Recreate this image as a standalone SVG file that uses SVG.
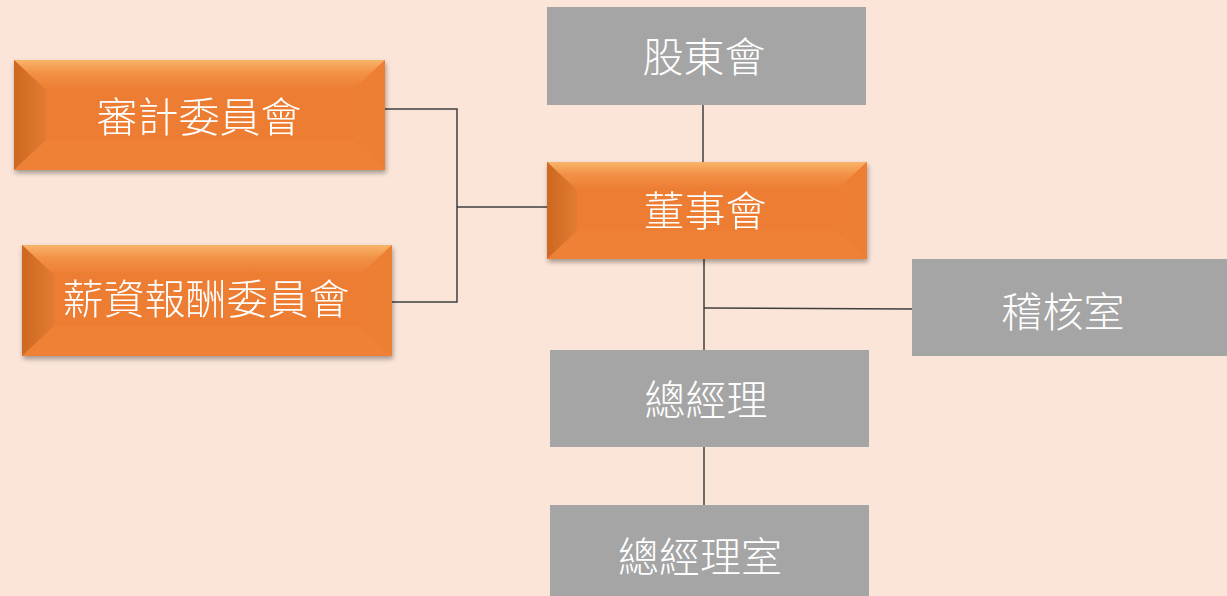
<svg xmlns="http://www.w3.org/2000/svg" width="1227" height="596" viewBox="0 0 1227 596">
<defs>
<style>
.gray{fill:#A5A5A5}
.lbl{font-family:"Noto Sans CJK TC","Noto Sans CJK SC",sans-serif;font-size:41px;font-weight:300;fill:#FFFFFF;text-anchor:middle;dominant-baseline:central}
.ln{stroke:#3F3F3F;stroke-width:1.5;fill:none}
.face{fill:#EC7D32}
.bl{fill:url(#gl)}
.br{fill:#ED7F33}
.bt{fill:url(#gt)}
.bb{fill:#EE8135}
</style>
<linearGradient id="gl" x1="0" y1="0" x2="1" y2="0"><stop offset="0" stop-color="#CC6820"/><stop offset="1" stop-color="#E27B34"/></linearGradient>
<linearGradient id="gt" x1="0" y1="0" x2="0" y2="1"><stop offset="0" stop-color="#F9B46A"/><stop offset="0.45" stop-color="#F29045"/><stop offset="1" stop-color="#EC7D32"/></linearGradient>
<filter id="sh" x="-10%" y="-10%" width="120%" height="130%"><feDropShadow dx="1" dy="3" stdDeviation="2.5" flood-color="#000" flood-opacity="0.35"/></filter>
</defs>
<rect width="1227" height="596" fill="#FBE5D8"/>
<g id="connectors">
<line class="ln" x1="703" y1="105" x2="703" y2="162"/>
<line class="ln" x1="704" y1="259" x2="704" y2="350"/>
<line class="ln" x1="704" y1="308" x2="912" y2="309"/>
<line class="ln" x1="704" y1="447" x2="704" y2="505"/>
<polyline class="ln" points="383,109 457,109 457,302 392,302"/>
<line class="ln" x1="457" y1="207" x2="547" y2="207"/>
</g>
<g id="n-shareholders"><rect class="gray" x="547" y="7" width="319" height="98"/><text class="lbl" x="704" y="54">股東會</text></g>
<g id="n-board" filter="url(#sh)">
<rect class="face" x="547" y="162" width="320" height="97"/>
<polygon class="bt" points="547,162 867,162 837,190 577,190"/>
<polygon class="bl" points="547,162 577,190 577,231 547,259"/>
<polygon class="br" points="867,162 867,259 837,231 837,190"/>
<polygon class="bb" points="547,259 577,231 837,231 867,259"/>
<rect class="face" x="577" y="190" width="260" height="41"/>
<text class="lbl" x="705" y="208">董事會</text></g>
<g id="n-audit-room"><rect class="gray" x="912" y="259" width="315" height="97"/><text class="lbl" x="1063" y="309">稽核室</text></g>
<g id="n-gm"><rect class="gray" x="550" y="350" width="319" height="97"/><text class="lbl" x="706" y="397">總經理</text></g>
<g id="n-gm-office"><rect class="gray" x="550" y="505" width="319" height="91"/><text class="lbl" x="700" y="554">總經理室</text></g>
<g id="n-audit-committee" filter="url(#sh)">
<rect class="face" x="14" y="60" width="371" height="110"/>
<polygon class="bt" points="14,60 385,60 353,90 46,90"/>
<polygon class="bl" points="14,60 46,90 46,140 14,170"/>
<polygon class="br" points="385,60 385,170 353,140 353,90"/>
<polygon class="bb" points="14,170 46,140 353,140 385,170"/>
<rect class="face" x="46" y="90" width="307" height="50"/>
<text class="lbl" x="199" y="114">審計委員會</text></g>
<g id="n-comp-committee" filter="url(#sh)">
<rect class="face" x="22" y="245" width="370" height="111"/>
<polygon class="bt" points="22,245 392,245 360,275 54,275"/>
<polygon class="bl" points="22,245 54,275 54,326 22,356"/>
<polygon class="br" points="392,245 392,356 360,326 360,275"/>
<polygon class="bb" points="22,356 54,326 360,326 392,356"/>
<rect class="face" x="54" y="275" width="306" height="51"/>
<text class="lbl" x="206" y="296">薪資報酬委員會</text></g>
</svg>
